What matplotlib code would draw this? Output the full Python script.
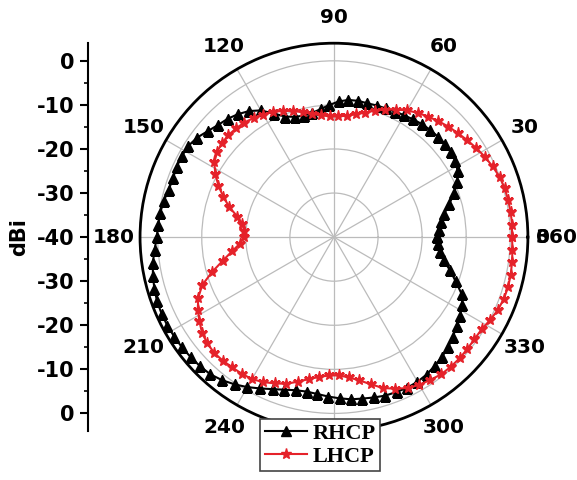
import matplotlib.pyplot as plt
import numpy as np

# angles in degrees, gain in dBi
angles = np.arange(0, 361, 4)
rhcp = [-16.7, -16.2, -15.4, -14.4, -12.8, -11.0, -9.4, -8.2, -7.5, -7.2,
        -7.1, -7.2, -7.3, -7.5, -7.8, -8.1, -8.3, -8.5, -8.6, -8.7,
        -8.6, -8.7, -9.2, -10.0, -10.8, -11.4, -11.6, -11.3, -10.5, -8.8,
        -6.8, -5.5, -4.6, -3.9, -3.4, -2.6, -1.6, -1.0, -0.9, -0.9,
        -1.1, -1.0, -0.5, -0.2, 0.0, 0.2, 0.8, 1.5, 2.0, 2.4,
        2.7, 2.8, 2.8, 2.7, 2.6, 2.4, 2.2, 1.9, 1.2, 0.3,
        -0.7, -1.8, -2.8, -3.6, -4.2, -4.4, -4.2, -3.8, -3.4, -3.0,
        -2.8, -2.5, -2.2, -2.1, -2.0, -2.1, -2.4, -2.9, -3.4, -4.0,
        -4.8, -5.6, -6.3, -7.0, -8.3, -10.6, -12.6, -14.5, -15.7, -16.4,
        -16.7]
lhcp = [0.4, 0.5, 0.5, 0.4, 0.3, 0.0, -0.6, -1.2, -1.9, -2.6,
        -3.3, -3.9, -4.6, -5.3, -6.0, -6.8, -7.8, -8.8, -9.8, -10.9,
        -11.7, -12.3, -12.6, -12.6, -12.2, -11.6, -10.8, -9.9, -9.1, -8.4,
        -7.9, -7.4, -7.0, -6.8, -6.7, -6.8, -7.2, -8.0, -9.5, -11.3,
        -13.3, -15.3, -17.6, -19.0, -19.6, -19.5, -18.6, -16.6, -14.2, -11.2,
        -8.2, -6.3, -5.0, -4.0, -3.0, -2.5, -2.2, -2.3, -2.5, -2.6,
        -2.8, -3.4, -4.2, -5.0, -6.2, -7.3, -8.1, -8.6, -8.6, -8.0,
        -7.0, -5.6, -4.0, -2.9, -1.9, -1.3, -0.9, -0.5, -0.4, -0.4,
        -0.5, -0.6, -0.5, 0.1, 0.7, 1.0, 1.1, 1.0, 0.8, 0.6,
        0.4]
# 270 sits under the legend in the original, so it is not shown
angle_labels = [30, 60, 90, 120, 150, 180, 210, 240, 300, 330]
rmin, rmax = -40, 4

fig = plt.figure(figsize=(5.77, 4.8), dpi=100)
ax = fig.add_axes([0.2426, 0.102, 0.6724, 0.808], projection='polar')
th = np.deg2rad(angles)
ax.plot(th, rhcp, color='black', lw=1.5, marker='^', ms=6.5, label='RHCP')
ax.plot(th, lhcp, color='#e5222a', lw=1.5, marker='*', ms=8, label='LHCP')
ax.set_rlim(rmin, rmax)
ax.set_rticks([-30, -20, -10, 0])
ax.set_yticklabels([])
ax.set_xticks(np.deg2rad(np.arange(0, 360, 30)))
ax.set_xticks(np.deg2rad(np.arange(15, 360, 30)), minor=True)
ax.set_xticklabels([])
ax.tick_params(axis='x', which='major', direction='in', length=8, width=1.5)
ax.tick_params(axis='x', which='minor', direction='in', length=5, width=1.2)
ax.grid(True, color='#bbbbbb', lw=0.9)
ax.spines['polar'].set_linewidth(2)

# angle labels, placed outside the circle
scale = 194 / (rmax - rmin)
r_lab = 220 / scale + rmin
for a in angle_labels:
    ax.text(np.deg2rad(a), r_lab, str(a), ha='center', va='center',
            fontsize=14.5, fontweight='bold', clip_on=False)
r0 = 202 / scale + rmin
ax.text(0, r0, '0', ha='left', va='center', fontsize=14.5, fontweight='bold', clip_on=False)
ax.text(0, r0, '360', ha='left', va='center', fontsize=14.5, fontweight='bold', clip_on=False)

# left radial scale
lax = fig.add_axes([0.1525, 0.102, 0.001, 0.808])
for s in ['top', 'right', 'bottom']:
    lax.spines[s].set_visible(False)
lax.spines['left'].set_linewidth(1.5)
lax.set_xticks([])
lax.set_ylim(-(rmax - rmin), rmax - rmin)
pos = [-40, -30, -20, -10, 0, 10, 20, 30, 40]
lax.set_yticks(pos)
lax.set_yticklabels([str(abs(p) + rmin) for p in pos], fontsize=15, fontweight='bold')
lax.set_yticks([-35, -25, -15, -5, 5, 15, 25, 35], minor=True)
lax.tick_params(axis='y', which='major', length=6, width=1.5)
lax.tick_params(axis='y', which='minor', length=3, width=1.2)
lax.set_ylabel('dBi', fontsize=15, fontweight='bold', labelpad=6)

leg = fig.legend(loc='upper center', bbox_to_anchor=(0.555, 0.127),
                 prop={'family': 'Liberation Serif', 'weight': 'bold', 'size': 16},
                 fancybox=False, edgecolor='#444444', framealpha=1,
                 handlelength=1.9, borderpad=0.2, labelspacing=0.1,
                 handletextpad=0.25, borderaxespad=0)
leg.get_frame().set_linewidth(1.2)

fig.savefig('out.png', dpi=100)
